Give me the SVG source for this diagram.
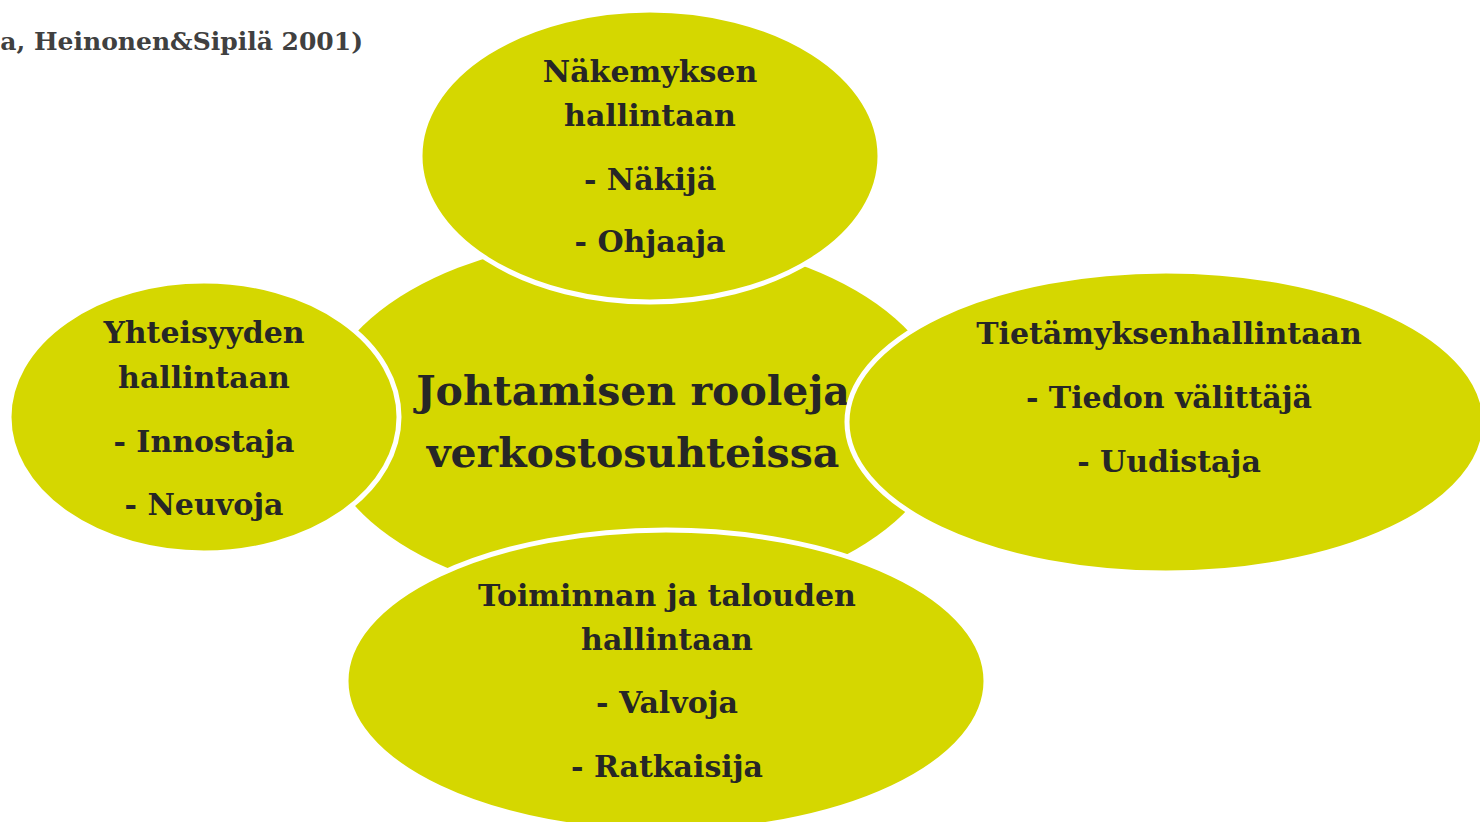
<svg xmlns="http://www.w3.org/2000/svg" width="1480" height="822" viewBox="0 0 1480 822">
<style>
.e{fill:#d5d700;}
.o{fill:#d5d700;stroke:#ffffff;stroke-width:5;}
.t{font-family:"DejaVu Serif","Liberation Serif",serif;font-weight:bold;fill:#262626;text-anchor:middle;font-size:30px;}
.big{font-size:41px;}
.h{font-family:"DejaVu Serif","Liberation Serif",serif;font-weight:bold;fill:#404040;font-size:25px;text-anchor:end;}
</style>
<rect width="1480" height="822" fill="#ffffff"/>
<text class="h" x="363" y="50">a, Heinonen&amp;Sipilä 2001)</text>
<g id="center">
<ellipse class="e" cx="633" cy="420" rx="315" ry="183"/>
<text class="t big" x="633" y="405">Johtamisen rooleja</text>
<text class="t big" x="633" y="467">verkostosuhteissa</text>
</g>
<g id="top">
<ellipse class="o" cx="650" cy="156" rx="230" ry="146"/>
<text class="t" x="650" y="82">Näkemyksen</text>
<text class="t" x="650" y="126">hallintaan</text>
<text class="t" x="650" y="190">- Näkijä</text>
<text class="t" x="650" y="252">- Ohjaaja</text>
</g>
<g id="left">
<ellipse class="o" cx="204" cy="417" rx="195" ry="136"/>
<text class="t" x="204" y="343">Yhteisyyden</text>
<text class="t" x="204" y="388">hallintaan</text>
<text class="t" x="204" y="452">- Innostaja</text>
<text class="t" x="204" y="515">- Neuvoja</text>
</g>
<g id="right">
<ellipse class="o" cx="1166" cy="422" rx="319" ry="151"/>
<text class="t" x="1169" y="344">Tietämyksenhallintaan</text>
<text class="t" x="1169" y="408">- Tiedon välittäjä</text>
<text class="t" x="1169" y="472">- Uudistaja</text>
</g>
<g id="bottom">
<ellipse class="o" cx="666" cy="681" rx="320" ry="151"/>
<text class="t" x="667" y="606">Toiminnan ja talouden</text>
<text class="t" x="667" y="650">hallintaan</text>
<text class="t" x="667" y="713">- Valvoja</text>
<text class="t" x="667" y="777">- Ratkaisija</text>
</g>
<g id="connectors"></g>
</svg>
